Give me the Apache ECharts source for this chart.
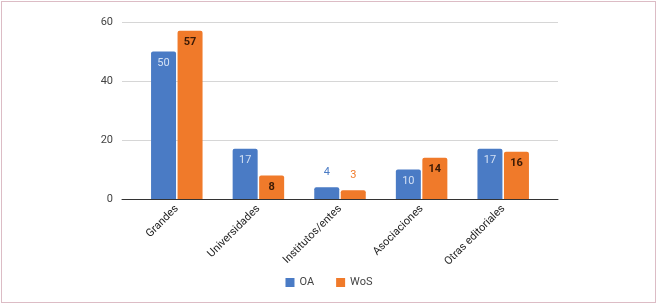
<!DOCTYPE html>
<html>
<head>
<meta charset="utf-8">
<script src="https://cdn.jsdelivr.net/npm/echarts@6/dist/echarts.min.js"></script>
<style>
    html, body { margin: 0; padding: 0; background: #fff; }
    #chart { position: absolute; left: 0; top: 0; width: 658px; height: 306px; }
    #frame { position: absolute; left: 1px; top: 1px; width: 653px; height: 300px;
             border: 1px solid #dcbcc5; pointer-events: none; }
</style>
</head>
<body>
<div id="chart"></div>
<div id="frame"></div>
<script>
// categorias y valores
var categories = ['Grandes', 'Universidades', 'Institutos/entes', 'Asociaciones', 'Otras editoriales'];
var oaValues = [50, 17, 4, 10, 17];
var wosValues = [57, 8, 3, 14, 16];
var yTicks = [0, 20, 40, 60];

var blue = '#4a7bc5';
var orange = '#f07a2a';

// las barras cortas llevan la etiqueta encima, en el color de la serie
var buildData = function (values, color, insideColor, insideWeight) {
    return values.map(function (v) {
        var small = v < 6;
        return {
            value: v,
            label: {
                position: small ? 'top' : 'insideTop',
                distance: small ? 9 : 6,
                color: small ? color : insideColor,
                fontWeight: small ? 'normal' : insideWeight
            }
        };
    });
};

var chart = echarts.init(document.getElementById('chart'));

var option = {
    animation: false,
    textStyle: { fontFamily: 'Roboto, Arial, sans-serif' },
    grid: [
        // rejilla y eje Y
        { left: 122, right: 100, top: 22, bottom: 107 },
        // barras
        { left: 136, right: 114, top: 22, bottom: 107 }
    ],
    legend: {
        bottom: 13,
        left: 'center',
        itemWidth: 9,
        itemHeight: 9,
        itemGap: 22,
        icon: 'rect',
        textStyle: { color: '#444', fontSize: 11 },
        data: ['OA', 'WoS']
    },
    xAxis: [
        {
            gridIndex: 0,
            type: 'category',
            data: [''],
            axisLine: { lineStyle: { color: '#333', width: 1 } },
            axisTick: { show: false },
            axisLabel: { show: false }
        },
        {
            gridIndex: 1,
            type: 'category',
            data: categories,
            axisLine: { show: false },
            axisTick: { show: false },
            axisLabel: {
                rotate: 45,
                margin: 8,
                color: '#222',
                fontSize: 11,
                interval: 0
            }
        }
    ],
    yAxis: [
        {
            gridIndex: 0,
            type: 'value',
            min: yTicks[0],
            max: yTicks[yTicks.length - 1],
            interval: 20,
            axisLine: { show: false },
            axisTick: { show: false },
            axisLabel: { color: '#444', fontSize: 11, margin: 9 },
            splitLine: { lineStyle: { color: '#d6d6d6' } }
        },
        {
            gridIndex: 1,
            type: 'value',
            min: yTicks[0],
            max: yTicks[yTicks.length - 1],
            show: false
        }
    ],
    series: [
        {
            name: 'OA',
            type: 'bar',
            xAxisIndex: 1,
            yAxisIndex: 1,
            barWidth: 25,
            barGap: '6%',
            itemStyle: { color: blue, borderRadius: [2, 2, 0, 0] },
            label: { show: true, fontSize: 11 },
            data: buildData(oaValues, blue, '#d3e0f4', 'normal')
        },
        {
            name: 'WoS',
            type: 'bar',
            xAxisIndex: 1,
            yAxisIndex: 1,
            barWidth: 25,
            itemStyle: { color: orange, borderRadius: [2, 2, 0, 0] },
            label: { show: true, fontSize: 11 },
            data: buildData(wosValues, orange, '#3a1a06', 'bold')
        }
    ]
};

chart.setOption(option);
</script>
</body>
</html>
